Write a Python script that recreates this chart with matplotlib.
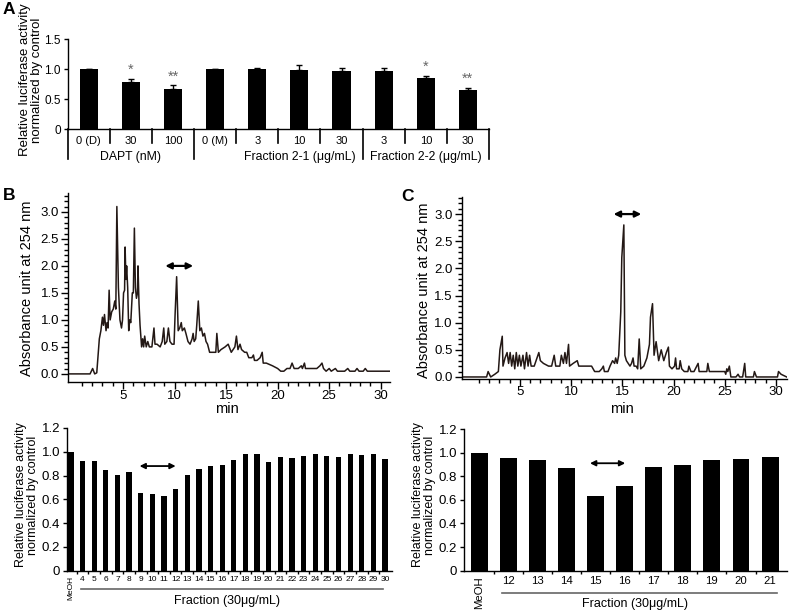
import numpy as np
import matplotlib
matplotlib.use("Agg")
import matplotlib.pyplot as plt

plt.rcParams['font.family'] = ['Liberation Sans', 'DejaVu Sans']

# panel A data
a_labels = ["0 (D)", "30", "100", "0 (M)", "3", "10", "30", "3", "10", "30"]
a_vals = [1.0, 0.783, 0.667, 1.0, 1.0, 0.983, 0.967, 0.978, 0.861, 0.656]
a_errs = [0.01, 0.055, 0.067, 0.008, 0.028, 0.09, 0.06, 0.04, 0.028, 0.04]
a_stars = {1: "*", 2: "**", 8: "*", 9: "**"}
a_groups = ["DAPT (nM)", "Fraction 2-1 (\u03bcg/mL)", "Fraction 2-2 (\u03bcg/mL)"]
a_group_pos = [1, 5, 8]

# panel B chromatogram (min, absorbance)
b_t = [-0.34, 1.8, 2.05, 2.25, 2.45, 2.7, 2.85, 3.0, 3.1, 3.2, 3.35, 3.45, 3.55, 3.65, 3.75,
       3.9, 4.05, 4.2, 4.3, 4.4, 4.55, 4.7, 4.85, 4.95, 5.05, 5.15, 5.2, 5.28, 5.35, 5.45,
       5.55, 5.65, 5.75, 5.9, 6.0, 6.1, 6.2, 6.3, 6.4, 6.45, 6.55, 6.65, 6.8, 6.9, 7.0,
       7.1, 7.25, 7.4, 7.55, 7.8, 8.0, 8.1, 8.3, 8.6, 8.8, 8.95, 9.05, 9.25, 9.4, 9.55,
       9.75, 9.95, 10.05, 10.2, 10.35, 10.5, 10.65, 10.75, 10.95, 11.1, 11.3, 11.5, 11.7, 11.8, 11.9,
       12.05, 12.15, 12.3, 12.45, 12.6, 12.75, 12.9, 13.05, 13.2, 13.4, 13.7, 14.0, 14.1, 14.25, 14.5,
       14.9, 15.2, 15.5, 15.85, 16.0, 16.15, 16.35, 16.5, 16.8, 17.0, 17.2, 17.5, 17.65, 17.75, 18.0,
       18.3, 18.5, 18.6, 18.9, 19.5, 20.0, 20.3, 20.6, 20.9, 21.2, 21.4, 21.6, 22.0, 22.3, 22.4,
       22.6, 22.7, 23.0, 23.8, 24.1, 24.3, 24.45, 24.7, 25.0, 25.2, 25.6, 25.8, 26.5, 26.8, 27.0,
       27.5, 27.7, 27.9, 28.3, 28.5, 28.7, 30.9]
b_abs = [0.0, 0.0, 0.1, 0.0, 0.02, 0.65, 0.8, 1.05, 0.9, 1.1, 0.8, 0.95, 0.85, 1.55, 1.0,
         1.15, 1.2, 1.35, 1.2, 3.1, 1.6, 1.0, 0.85, 1.0, 1.5, 1.55, 2.35, 1.75, 2.0, 1.6,
         0.8, 1.0, 0.95, 1.5, 1.5, 2.7, 1.6, 1.4, 1.5, 2.0, 1.3, 0.9, 0.5, 0.65, 0.5,
         0.7, 0.5, 0.6, 0.5, 0.5, 0.85, 0.55, 0.55, 0.5, 0.6, 0.85, 0.55, 0.6, 0.85, 0.6,
         0.55, 0.55, 1.1, 1.8, 0.8, 0.85, 0.95, 0.8, 0.85, 0.75, 0.6, 0.55, 0.65, 0.75, 0.6,
         0.65, 0.9, 1.35, 0.8, 0.85, 0.7, 0.75, 0.6, 0.55, 0.4, 0.4, 0.4, 0.75, 0.4, 0.45,
         0.5, 0.55, 0.4, 0.5, 0.7, 0.45, 0.55, 0.45, 0.4, 0.4, 0.3, 0.3, 0.35, 0.25, 0.25,
         0.3, 0.4, 0.2, 0.2, 0.15, 0.1, 0.05, 0.05, 0.1, 0.1, 0.2, 0.1, 0.1, 0.15, 0.1,
         0.2, 0.1, 0.1, 0.1, 0.15, 0.2, 0.1, 0.05, 0.1, 0.05, 0.1, 0.05, 0.05, 0.1, 0.05,
         0.05, 0.1, 0.05, 0.05, 0.1, 0.05, 0.05]

# panel C chromatogram
c_t = [-0.68, 1.75, 1.9, 2.15, 2.55, 2.9, 3.05, 3.28, 3.35, 3.55, 3.75, 3.9, 4.05, 4.2, 4.35,
       4.5, 4.65, 4.8, 4.95, 5.1, 5.3, 5.45, 5.65, 5.8, 5.95, 6.1, 6.4, 6.85, 7.0, 7.3,
       7.8, 8.1, 8.35, 8.5, 8.9, 9.05, 9.25, 9.4, 9.55, 9.75, 9.85, 10.2, 10.6, 10.75, 12.0,
       12.3, 12.75, 13.0, 13.15, 13.25, 13.6, 13.8, 14.05, 14.25, 14.35, 14.5, 14.65, 14.85, 14.95, 15.15,
       15.25, 15.4, 15.75, 15.9, 16.05, 16.15, 16.35, 16.5, 16.65, 16.8, 17.1, 17.4, 17.65, 17.75, 17.95,
       18.1, 18.3, 18.55, 18.8, 19.05, 19.3, 19.5, 19.6, 19.85, 20.1, 20.2, 20.3, 20.55, 20.65, 20.8,
       21.05, 21.4, 21.5, 21.7, 22.0, 22.4, 22.5, 23.25, 23.35, 23.5, 25.0, 25.1, 25.2, 25.3, 25.45,
       25.6, 26.1, 26.3, 26.45, 26.75, 26.95, 27.05, 27.8, 27.9, 28.1, 30.15, 30.25, 30.5, 31.05]
c_abs = [0.0, 0.0, 0.1, 0.0, 0.05, 0.1, 0.5, 0.75, 0.2, 0.35, 0.45, 0.25, 0.45, 0.2, 0.4,
         0.15, 0.45, 0.2, 0.4, 0.2, 0.4, 0.15, 0.45, 0.2, 0.4, 0.2, 0.2, 0.45, 0.3, 0.25,
         0.2, 0.2, 0.4, 0.2, 0.2, 0.4, 0.25, 0.45, 0.25, 0.6, 0.2, 0.25, 0.3, 0.2, 0.2,
         0.1, 0.1, 0.15, 0.2, 0.1, 0.1, 0.2, 0.3, 0.25, 0.35, 0.25, 0.4, 1.2, 2.2, 2.8,
         0.4, 0.3, 0.2, 0.25, 0.35, 0.2, 0.2, 0.15, 0.7, 0.15, 0.2, 0.35, 0.6, 1.1, 1.35,
         0.4, 0.65, 0.3, 0.5, 0.3, 0.45, 0.55, 0.2, 0.15, 0.2, 0.35, 0.15, 0.15, 0.3, 0.15,
         0.1, 0.1, 0.2, 0.1, 0.1, 0.25, 0.1, 0.1, 0.25, 0.1, 0.1, 0.05, 0.15, 0.1, 0.2,
         0.0, 0.0, 0.05, 0.0, 0.0, 0.25, 0.0, 0.0, 0.1, 0.0, 0.0, 0.1, 0.05, 0.0]

# bar charts under the chromatograms
b_frac = ["MeOH"] + [str(i) for i in range(4, 31)]
b_act = [1.0, 0.92, 0.92, 0.85, 0.805, 0.83, 0.65, 0.645, 0.625, 0.686, 0.807, 0.857, 0.88, 0.888,
         0.927, 0.978, 0.978, 0.91, 0.958, 0.947, 0.964, 0.983, 0.961, 0.958, 0.978, 0.972, 0.978, 0.938]
c_frac = ["MeOH"] + [str(i) for i in range(12, 22)]
c_act = [1.0, 0.952, 0.935, 0.872, 0.63, 0.716, 0.88, 0.898, 0.937, 0.949, 0.963]

W, H = 790, 614
fig = plt.figure(figsize=(W / 100, H / 100), dpi=100)


def rect(l, r, top, bottom):
    return [l / W, 1 - bottom / H, (r - l) / W, (bottom - top) / H]


def ptxt(x, y, s, **kw):
    fig.text(x / W, 1 - y / H, s, **kw)


def clean(ax):
    for s in ["top", "right"]:
        ax.spines[s].set_visible(False)
    for s in ["left", "bottom"]:
        ax.spines[s].set_linewidth(1.0)


def dbl_arrow(ax, x0, x1, y, lw, ms):
    ax.annotate("", xy=(x1, y), xytext=(x0, y),
                arrowprops=dict(arrowstyle="<|-|>", color="black", lw=lw, mutation_scale=ms,
                                shrinkA=0, shrinkB=0))


ylab_bar = "Relative luciferase activity\nnormalized by control"

# ---------- A ----------
axA = fig.add_axes(rect(67.7, 489, 39.3, 129.3))
clean(axA)
xa = np.arange(len(a_vals))
axA.bar(xa, a_vals, width=0.43, color="black")
axA.errorbar(xa, a_vals, yerr=[np.zeros(len(a_errs)), a_errs], fmt="none",
             ecolor="black", elinewidth=1, capsize=2.5, capthick=1)
axA.set_xlim(-0.5, len(a_vals) - 0.5)
axA.set_ylim(0, 1.5)
axA.set_yticks([0, 0.5, 1.0, 1.5], ["0", "0.5", "1.0", "1.5"], fontsize=8.5)
axA.tick_params(axis="y", direction="out", length=3, width=1, pad=2)
axA.set_xticks(xa, a_labels, fontsize=8)
axA.tick_params(axis="x", length=0, pad=5)
long_div = [-0.5, 2.5, 6.5, 9.5]
for b in np.arange(-0.5, len(a_vals), 1.0):
    low = -0.33 if b in long_div else -0.155
    axA.plot([b, b], [0, low], color="black", lw=1.2,
             transform=axA.get_xaxis_transform(), clip_on=False)
for g, p in zip(a_groups, a_group_pos):
    axA.text(p, -0.31, g, transform=axA.get_xaxis_transform(), ha="center", va="center", fontsize=8.8)
for i, s in a_stars.items():
    axA.text(i, a_vals[i] + a_errs[i] + 0.03, s, ha="center", va="bottom", fontsize=10.5, color="#666666")
ptxt(31, 80, ylab_bar, rotation=90, ha="center", va="center", fontsize=9.5, multialignment="center",
     linespacing=1.1)

# ---------- chromatograms ----------
def chrom(ax, t, v, xlim, ylim, arrow):
    clean(ax)
    ax.plot(t, v, color="#231815", lw=1.1)
    ax.set_xlim(*xlim)
    ax.set_ylim(*ylim)
    ax.set_yticks(np.arange(0, 3.01, 0.5), ["%.1f" % y for y in np.arange(0, 3.01, 0.5)], fontsize=9.5)
    ax.set_yticks(np.arange(0, 3.31, 0.1), minor=True)
    ax.set_xticks(np.arange(5, 31, 5), [str(x) for x in range(5, 31, 5)], fontsize=9.5)
    ax.set_xticks(np.arange(1, 31, 1), minor=True)
    ax.tick_params(which="major", direction="out", length=5, width=1, pad=1.5)
    ax.tick_params(axis="x", which="major", pad=0.5)
    ax.tick_params(which="minor", direction="out", length=3, width=1)
    dbl_arrow(ax, arrow[0], arrow[1], arrow[2], 1.6, 9)


axB = fig.add_axes(rect(68, 390, 193, 382))
chrom(axB, b_t, b_abs, (-0.34, 30.9), (-0.15, 3.35), (9.1, 11.8, 2.0))
axC = fig.add_axes(rect(461.7, 786.7, 196.7, 378.6))
chrom(axC, c_t, c_abs, (-0.68, 31.05), (-0.03, 3.32), (14.15, 16.85, 3.0))
ptxt(27.5, 288, "Absorbance unit at 254 nm", rotation=90, ha="center", va="center", fontsize=10.5)
ptxt(424, 290, "Absorbance unit at 254 nm", rotation=90, ha="center", va="center", fontsize=10.5)
ptxt(227, 409, "min", ha="center", va="center", fontsize=10.5)
ptxt(622, 409, "min", ha="center", va="center", fontsize=10.5)

# ---------- fraction bar charts ----------
def fracbars(ax, labels, vals, width, xlim, lblsize, line, flab, arrow):
    clean(ax)
    x = np.arange(len(vals))
    ax.bar(x, vals, width=width, color="black")
    ax.set_xlim(*xlim)
    ax.set_ylim(0, 1.2)
    ax.set_yticks(np.arange(0, 1.21, 0.2), ["0"] + ["%.1f" % y for y in np.arange(0.2, 1.21, 0.2)], fontsize=9.5)
    ax.tick_params(axis="y", direction="out", length=3, width=1, pad=2)
    ax.set_xticks(x, labels, fontsize=lblsize)
    ax.set_xticks(x[:-1] + 0.5, minor=True)
    ax.tick_params(axis="x", which="major", length=0, pad=4)
    ax.tick_params(axis="x", which="minor", direction="out", length=2, width=1)
    ax.get_xticklabels()[0].set_rotation(90)
    tr = ax.get_xaxis_transform()
    ax.plot([line[0], line[1]], [line[2], line[2]], color="#666666", lw=1.2, transform=tr, clip_on=False)
    ax.text(flab[0], flab[1], "Fraction (30\u03bcg/mL)", transform=tr, ha="center", va="center", fontsize=9)
    dbl_arrow(ax, arrow[0], arrow[1], arrow[2], 1.3, 8)


axBb = fig.add_axes(rect(67, 392, 428, 570.7))
fracbars(axBb, b_frac, b_act, 0.45, (-0.34, 27.6), 6, (0.9, 26.8, -0.13), (13.4, -0.21), (5.9, 9.0, 0.88))
axCb = fig.add_axes(rect(464, 787, 429, 570.7))
fracbars(axCb, c_frac, c_act, 0.58, (-0.52, 10.58), 8.2, (0.79, 10.24, -0.155), (5.36, -0.235), (3.81, 5.02, 0.91))
ptxt(27, 495, ylab_bar, rotation=90, ha="center", va="center", fontsize=9, multialignment="center",
     linespacing=1.1)
ptxt(424, 495, ylab_bar, rotation=90, ha="center", va="center", fontsize=9, multialignment="center",
     linespacing=1.1)

# panel letters
ptxt(9, 10, "A", ha="center", va="center", fontsize=12.5, fontweight="bold")
ptxt(9, 196, "B", ha="center", va="center", fontsize=12.5, fontweight="bold")
ptxt(407, 197, "C", ha="center", va="center", fontsize=12.5, fontweight="bold")

fig.savefig("out.png", dpi=100)
